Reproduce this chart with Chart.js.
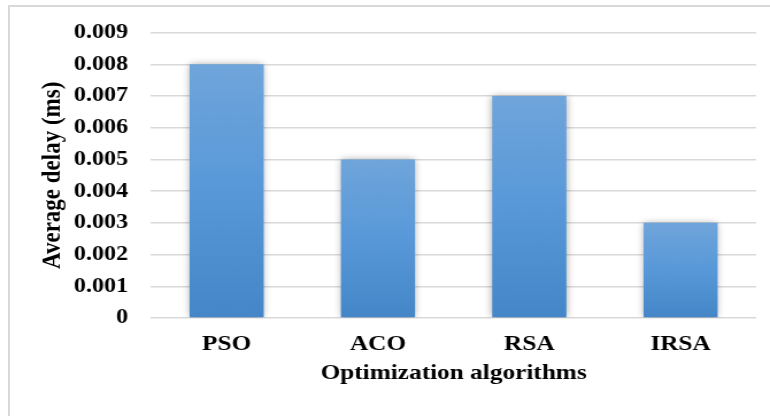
<!DOCTYPE html>
<html>
<head>
<meta charset="utf-8">
<script src="https://cdn.jsdelivr.net/npm/chart.js@4/dist/chart.umd.min.js"></script>
<style>
  html, body { margin: 0; padding: 0; background: #fff; overflow: hidden; }
  body { width: 770px; height: 416px; position: relative; }
  .frame {
    position: absolute; left: 8px; top: 5px; width: 800px; height: 500px;
    border: 2px solid #d9d9d9; box-sizing: border-box;
  }
  #chart { position: absolute; left: 0; top: 0; }
</style>
</head>
<body>
<div class="frame"></div>
<canvas id="chart" width="670" height="416" style="width:770px;height:416px"></canvas>
<script>
// Average delay per optimization algorithm
const categories = ['PSO', 'ACO', 'RSA', 'IRSA'];
const avgDelay = [0.008, 0.005, 0.007, 0.003];
const yMin = 0;
const yMax = 0.009;
const yStep = 0.001;

const FONT = '"Liberation Serif", "Times New Roman", serif';

// Vertical gradient for each bar, light at the top and deeper blue at the base
function barGradient(ctx) {
  const chart = ctx.chart;
  const area = chart.chartArea;
  if (!area) return '#5b9bd5';
  const y = chart.scales.y;
  const top = y.getPixelForValue(ctx.raw);
  const base = y.getPixelForValue(0);
  const g = chart.ctx.createLinearGradient(0, top, 0, base);
  g.addColorStop(0, '#6fa5da');
  g.addColorStop(0.5, '#5898d9');
  g.addColorStop(1, '#4486c7');
  return g;
}

// Soft outer shadow behind the bars
const barShadow = {
  id: 'barShadow',
  beforeDatasetsDraw(chart) {
    const c = chart.ctx;
    c.save();
    c.shadowColor = 'rgba(0,0,0,0.35)';
    c.shadowBlur = 7;
    c.shadowOffsetX = 0;
    c.shadowOffsetY = 0;
  },
  afterDatasetsDraw(chart) {
    chart.ctx.restore();
  }
};

new Chart(document.getElementById('chart'), {
  type: 'bar',
  data: {
    labels: categories,
    datasets: [{
      data: avgDelay,
      backgroundColor: barGradient,
      borderWidth: 0,
      barPercentage: 0.49,
      categoryPercentage: 1.0
    }]
  },
  options: {
    responsive: false,
    devicePixelRatio: 1,
    animation: false,
    events: [],
    layout: { padding: { left: 0, right: 12, top: 0, bottom: 29 } },
    plugins: { legend: { display: false }, tooltip: { enabled: false } },
    scales: {
      x: {
        grid: { display: false, drawTicks: false },
        border: { display: false },
        ticks: {
          color: '#000',
          padding: 13,
          font: { family: FONT, size: 22, weight: 'bold' }
        },
        title: {
          display: true,
          text: 'Optimization algorithms',
          color: '#000',
          padding: { top: 0, bottom: 0 },
          font: { family: FONT, size: 22, weight: 'bold', lineHeight: 1.2 }
        },
        afterFit(scale) { scale.height = 69; }
      },
      y: {
        min: yMin,
        max: yMax,
        grid: { color: '#d9d9d9', lineWidth: 1.5, drawTicks: false },
        border: { display: false },
        ticks: {
          stepSize: yStep,
          color: '#000',
          padding: 20,
          font: { family: FONT, size: 21, weight: 'bold' },
          callback: v => (v === 0 ? '0' : Number(v).toFixed(3))
        },
        title: {
          display: true,
          text: 'Average delay (ms)',
          color: '#000',
          padding: { top: 32, bottom: 0 },
          font: { family: FONT, size: 23, weight: 'bold', lineHeight: 1.2 }
        },
        afterFit(scale) { scale.width = 131.4; }
      }
    }
  },
  plugins: [barShadow]
});
</script>
</body>
</html>
